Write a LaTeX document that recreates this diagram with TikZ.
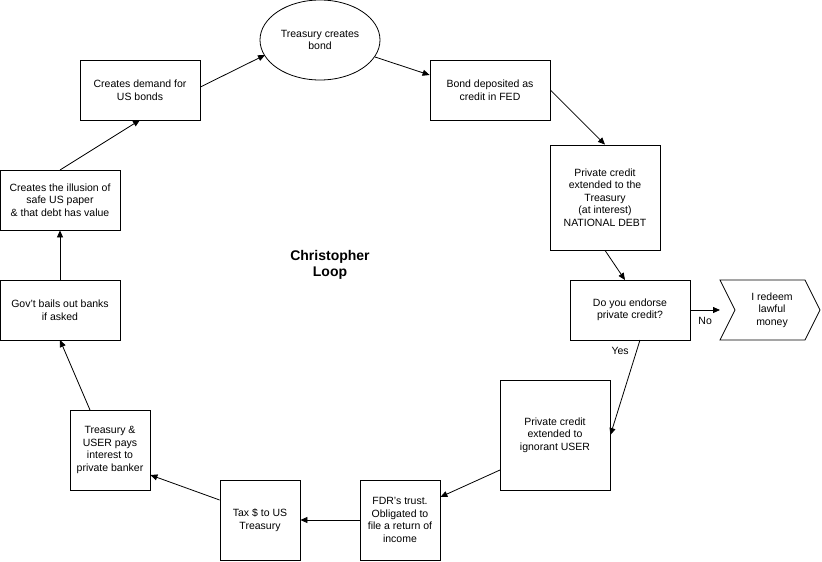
\documentclass[tikz,border=0pt]{standalone}
\usepackage{fontspec}
\setmainfont{Liberation Sans}
\usetikzlibrary{shapes.geometric,arrows.meta}
\begin{document}
\begin{tikzpicture}[x=1pt,y=-1pt,
  box/.style={draw,line width=0.8pt,align=center,inner sep=1pt,font=\fontsize{10.5}{12.5}\selectfont},
  arr/.style={-{Triangle[length=7pt,width=6pt]},line width=0.8pt},
  lbl/.style={font=\fontsize{10.5}{12.5}\selectfont}]
\useasboundingbox (0,0) rectangle (822,562);
\node[box,ellipse,minimum width=120pt,minimum height=80pt] (tb) at (320,40) {Treasury creates\\bond};
\node[box,minimum width=120pt,minimum height=60pt] (cd) at (140,90) {Creates demand for\\US bonds};
\node[box,minimum width=120pt,minimum height=60pt] (bd) at (490,90) {Bond deposited as\\credit in FED};
\node[box,minimum width=110pt,minimum height=105pt] (pc) at (605,197.5) {Private credit\\extended to the\\Treasury\\(at interest)\\NATIONAL DEBT};
\node[box,minimum width=120pt,minimum height=60pt] (en) at (630,310) {Do you endorse\\private credit?};
\draw[line width=0.8pt] (720,280)--(805,280)--(820,310)--(805,340)--(720,340)--(735,310)--cycle;
\node[lbl,align=center] (rd) at (772,310) {I redeem\\lawful\\money};
\coordinate (rdin) at (720,310);
\node[box,minimum width=110pt,minimum height=110pt] (pu) at (555,435) {Private credit\\extended to\\ignorant USER};
\node[box,minimum width=80pt,minimum height=80pt] (fd) at (400,520) {FDR's trust.\\Obligated to\\file a return of\\income};
\node[box,minimum width=80pt,minimum height=80pt] (tx) at (260,520) {Tax \$ to US\\Treasury};
\node[box,minimum width=80pt,minimum height=80pt] (tu) at (110,450) {Treasury \&\\USER pays\\interest to\\private banker};
\node[box,minimum width=120pt,minimum height=60pt] (gb) at (60,310) {Gov't bails out banks\\if asked};
\node[box,minimum width=120pt,minimum height=60pt] (il) at (60,200) {Creates the illusion of\\safe US paper\\\& that debt has value};
\node[font=\fontsize{14}{16}\selectfont\bfseries,align=center] (ttl) at (330,265) {Christopher\\Loop};
\draw[arr] (cd.east|-0,87) -- (265,55);
\draw[arr] (375,57) -- (bd.west|-0,75);
\draw[arr] (bd.east|-0,90) -- (pc.north);
\draw[arr] (pc.south) -- (625,280);
\draw[arr] (en.east) -- (rdin) node[lbl,midway,below=4pt] {No};
\draw[arr] (640,340) -- (pu.east|-0,435) node[lbl,pos=0.12,left=4pt] {Yes};
\draw[arr] (500,470) -- (fd.east|-0,497);
\draw[arr] (fd.west) -- (tx.east);
\draw[arr] (tx.west|-0,500) -- (tu.east|-0,475);
\draw[arr] (90,410) -- (60,340);
\draw[arr] (gb.north) -- (il.south);
\draw[arr] (60,170) -- (140,120);
\end{tikzpicture}
\end{document}
